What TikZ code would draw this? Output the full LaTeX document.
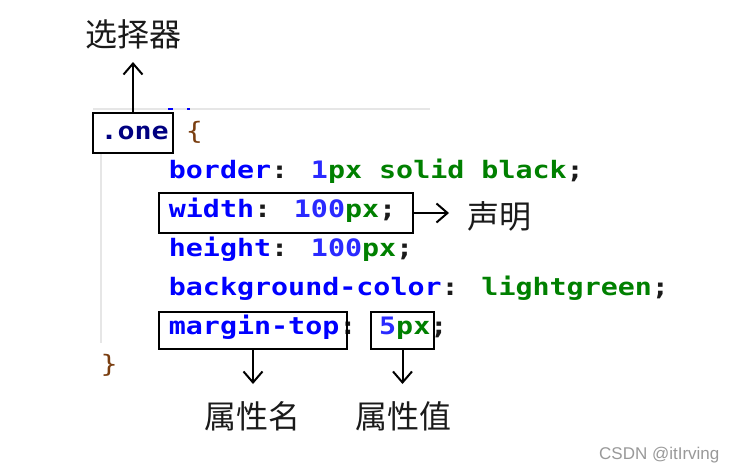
\documentclass[tikz,border=0pt]{standalone}
\usepackage{fontspec}
\setmainfont{Liberation Sans}
\newfontfamily\codefont{DejaVu Sans Mono}[FakeStretch=1.18]
\newfontfamily\cjk{Noto Sans CJK SC}
\usetikzlibrary{arrows.meta}
\definecolor{selc}{HTML}{000080}
\definecolor{propc}{HTML}{0000FF}
\definecolor{numc}{HTML}{2A2AFF}
\definecolor{valc}{HTML}{008000}
\definecolor{punc}{HTML}{1A1A1A}
\definecolor{brc}{HTML}{7A3E10}
\definecolor{guidec}{HTML}{E6E6E6}
\definecolor{labc}{HTML}{1A1A1A}
\definecolor{wmc}{HTML}{999999}
\newcommand\cprop[1]{\textcolor{propc}{#1}}
\newcommand\cnum[1]{\textcolor{numc}{#1}}
\newcommand\cval[1]{\textcolor{valc}{#1}}
\newcommand\cpun[1]{\textcolor{punc}{#1}}
\newcommand\cbrace[1]{\textcolor{brc}{\mdseries #1}}
\begin{document}
\begin{tikzpicture}[x=1pt,y=-1pt,
  code/.style={anchor=base west, inner sep=0pt, outer sep=0pt,
    font=\codefont\bfseries\fontsize{24}{24}\selectfont},
  box/.style={draw=black, line width=2pt, rectangle, inner sep=0pt, outer sep=0pt},
  lab/.style={anchor=base, inner sep=0pt, text=labc, font=\cjk\fontsize{32}{32}\selectfont},
  arr/.style={line width=2pt, draw=black, -{Straight Barb[length=11pt, width=19pt]}}]
\useasboundingbox[fill=white] (0,0) rectangle (741,471);
% guide lines of the editor
\draw[guidec, line width=2pt] (93,109) -- (430,109);
\draw[guidec, line width=2pt] (101,153) -- (101,343);
\fill[propc] (168,107.5) rectangle (173,110);
\fill[propc] (187,107.5) rectangle (190,110);
% code
\node[code] (l0) at (100.5,139.5) {\textcolor{selc}{.one} \cbrace{\{}};
\node[code] (l1) at (168.9,178.4) {\cprop{border}\cpun{:} \cnum{1}\cval{px solid black}\cpun{;}};
\node[code] (l2) at (168.9,217.3) {\cprop{width}\cpun{:} \cnum{100}\cval{px}\cpun{;}};
\node[code] (l3) at (168.9,256.2) {\cprop{height}\cpun{:} \cnum{100}\cval{px}\cpun{;}};
\node[code] (l4) at (168.9,295.1) {\cprop{background-color}\cpun{:} \cval{lightgreen}\cpun{;}};
\node[code] (l5) at (168.9,334) {\cprop{margin-top}\cpun{:} \cnum{5}\cval{px}\cpun{;}};
\node[code] (l6) at (100.5,372.9) {\cbrace{\}}};
% boxes
\node[box, minimum width=80pt, minimum height=40pt] (sel) at (133,133) {};
\node[box, minimum width=254pt, minimum height=40pt] (decl) at (286,213) {};
\node[box, minimum width=188pt, minimum height=37pt] (pname) at (253,330.5) {};
\node[box, minimum width=63pt, minimum height=37pt] (pval) at (402.5,330.5) {};
% labels
\node[lab] (tsel) at (133,46) {选择器};
\node[lab] (tdecl) at (499,228) {声明};
\node[lab] (tname) at (252,428) {属性名};
\node[lab] (tval) at (403,428) {属性值};
% arrow tips
\coordinate (asel) at (133,62);
\coordinate (adecl) at (449,213);
\coordinate (aname) at (253,384);
\coordinate (aval) at (402.5,384);
\draw[arr] (sel.north) -- (asel);
\draw[arr] (decl.east) -- (adecl);
\draw[arr] (pname.south) -- (aname);
\draw[arr] (pval.south) -- (aval);
% watermark
\node[anchor=base west, inner sep=0pt, text=wmc, font=\fontsize{17}{17}\selectfont] (wm) at (599,459) {CSDN @itIrving};
\end{tikzpicture}
\end{document}
